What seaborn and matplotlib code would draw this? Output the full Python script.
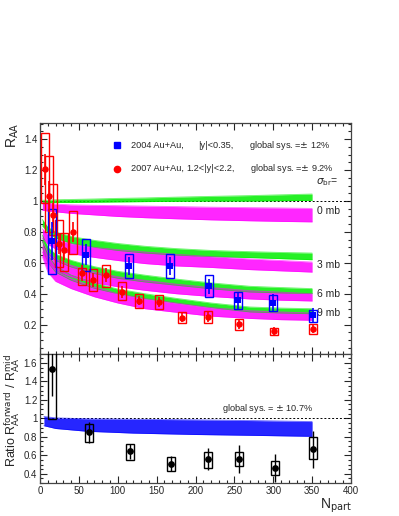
import numpy as np
import pandas as pd
import seaborn as sns
import matplotlib
matplotlib.use("Agg")
import matplotlib.pyplot as plt
from matplotlib.patches import Rectangle
from matplotlib.ticker import MultipleLocator, FuncFormatter

sns.set_style("ticks")
plt.rcParams['font.family'] = ['Liberation Sans', 'DejaVu Sans']

# ---- datos: bandas del modelo (panel superior) ----
npart_band = [3, 10, 20, 40, 70, 100, 135, 175, 220, 270, 310, 350]

verde_0_up = [1.005, 1.005, 1.008, 1.01, 1.013, 1.017, 1.02, 1.025, 1.03, 1.035, 1.04, 1.045]
verde_0_lo = [0.985, 0.988, 0.99, 0.99, 0.992, 0.994, 0.996, 0.998, 1.0, 1.0, 1.002, 1.004]
mag_0_up = [0.99, 0.985, 0.98, 0.975, 0.972, 0.97, 0.967, 0.964, 0.96, 0.957, 0.955, 0.952]
mag_0_lo = [0.94, 0.935, 0.93, 0.92, 0.91, 0.9, 0.892, 0.885, 0.878, 0.872, 0.868, 0.865]

verde_3_up = [0.88, 0.83, 0.80, 0.77, 0.745, 0.725, 0.707, 0.692, 0.68, 0.672, 0.667, 0.663]
verde_3_lo = [0.84, 0.795, 0.76, 0.725, 0.70, 0.68, 0.663, 0.65, 0.64, 0.634, 0.627, 0.62]
mag_3_up = [0.82, 0.78, 0.75, 0.724, 0.70, 0.685, 0.67, 0.655, 0.64, 0.625, 0.615, 0.605]
mag_3_lo = [0.76, 0.72, 0.69, 0.66, 0.635, 0.615, 0.595, 0.58, 0.57, 0.556, 0.548, 0.54]

verde_6_up = [0.78, 0.70, 0.655, 0.616, 0.575, 0.545, 0.52, 0.495, 0.47, 0.448, 0.44, 0.433]
verde_6_lo = [0.74, 0.66, 0.615, 0.573, 0.53, 0.50, 0.476, 0.455, 0.432, 0.411, 0.405, 0.40]
mag_6_up = [0.74, 0.67, 0.625, 0.584, 0.54, 0.51, 0.487, 0.462, 0.44, 0.42, 0.41, 0.40]
mag_6_lo = [0.67, 0.60, 0.555, 0.51, 0.47, 0.445, 0.422, 0.40, 0.382, 0.366, 0.358, 0.353]

verde_9_up = [0.74, 0.65, 0.58, 0.52, 0.47, 0.43, 0.40, 0.37, 0.34, 0.314, 0.307, 0.303]
verde_9_lo = [0.70, 0.605, 0.54, 0.487, 0.435, 0.40, 0.368, 0.34, 0.31, 0.282, 0.275, 0.27]
mag_9_up = [0.70, 0.61, 0.55, 0.497, 0.445, 0.40, 0.368, 0.34, 0.31, 0.29, 0.282, 0.275]
mag_9_lo = [0.64, 0.54, 0.48, 0.433, 0.38, 0.34, 0.303, 0.28, 0.255, 0.24, 0.232, 0.228]

# ---- datos 2004 (|y|<0.35) ----
npart_2004 = [15, 59, 115, 167, 217, 255, 300, 351]
raa_2004 = [0.741, 0.653, 0.579, 0.579, 0.448, 0.357, 0.34, 0.26]
stat_2004 = [0.12, 0.07, 0.06, 0.06, 0.05, 0.055, 0.055, 0.05]
sys_lo_2004 = [0.53, 0.55, 0.50, 0.50, 0.38, 0.30, 0.286, 0.217]
sys_hi_2004 = [0.95, 0.752, 0.66, 0.66, 0.52, 0.41, 0.394, 0.297]

# ---- datos 2007 (1.2<|y|<2.2) ----
npart_2007 = [6.8, 12, 17, 24, 31, 42, 53.6, 68.6, 85, 105, 127, 153.5, 183, 216.5, 256, 301, 351]
raa_2007 = [1.205, 1.03, 0.909, 0.724, 0.681, 0.80, 0.534, 0.487, 0.519, 0.411, 0.355,
            0.346, 0.245, 0.249, 0.202, 0.157, 0.174]
stat_2007 = [0.10, 0.10, 0.08, 0.07, 0.06, 0.065, 0.05, 0.045, 0.045, 0.04, 0.03,
             0.03, 0.03, 0.03, 0.03, 0.03, 0.03]
sys_lo_2007 = [0.99, 0.80, 0.78, 0.573, 0.55, 0.66, 0.454, 0.416, 0.443, 0.357, 0.31,
               0.30, 0.21, 0.21, 0.163, 0.13, 0.142]
sys_hi_2007 = [1.44, 1.29, 1.11, 0.875, 0.793, 0.935, 0.566, 0.562, 0.588, 0.476, 0.40,
               0.394, 0.282, 0.288, 0.234, 0.18, 0.206]

# ---- panel inferior: razon forward / mid ----
npart_ratio_band = [5, 20, 60, 120, 200, 280, 350]
ratio_band_up = [1.02, 1.005, 0.995, 0.99, 0.984, 0.975, 0.965]
ratio_band_lo = [0.92, 0.89, 0.86, 0.84, 0.825, 0.815, 0.805]

npart_ratio = [15.4, 62.6, 116, 168, 216.5, 256, 302, 351]
ratio = [1.534, 0.847, 0.641, 0.509, 0.559, 0.562, 0.46, 0.663]
ratio_stat = [0.29, 0.11, 0.085, 0.08, 0.12, 0.15, 0.15, 0.20]
ratio_sys_lo = [0.99, 0.743, 0.552, 0.433, 0.46, 0.48, 0.39, 0.56]
ratio_sys_hi = [2.07, 0.94, 0.72, 0.577, 0.64, 0.64, 0.533, 0.80]

VERDE = "#00ee00"
MAG = "#ff00ff"
AZUL = "#0000ff"
ROJO = "#ff0000"

fig = plt.figure(figsize=(3.99, 5.16), dpi=100)
ax1 = fig.add_axes([0.1003, 0.314, 0.7794, 0.4477])
ax2 = fig.add_axes([0.1003, 0.064, 0.7794, 0.250])


def banda(ax, up, lo, color, xs):
    ax.fill_between(xs, lo, up, color=color, alpha=0.85, lw=0)
    df = pd.DataFrame({"x": xs, "up": up, "lo": lo})
    sns.lineplot(data=df, x="x", y="up", ax=ax, color=color, lw=0.6, alpha=0.6)
    sns.lineplot(data=df, x="x", y="lo", ax=ax, color=color, lw=0.6, alpha=0.6)


def cajas(ax, xs, lo, hi, color, lw=1.0, half=5.2):
    for x, l, h in zip(xs, lo, hi):
        ax.add_patch(Rectangle((x - half, l), 2 * half, h - l, fill=False,
                               edgecolor=color, lw=lw, zorder=4))


# ---- panel superior ----
ax1.axhline(1.0, color="black", ls=(0, (2, 2)), lw=0.7, zorder=1)
for up, lo in [(verde_0_up, verde_0_lo), (verde_3_up, verde_3_lo),
               (verde_6_up, verde_6_lo), (verde_9_up, verde_9_lo)]:
    banda(ax1, up, lo, VERDE, npart_band)
for up, lo in [(mag_0_up, mag_0_lo), (mag_3_up, mag_3_lo),
               (mag_6_up, mag_6_lo), (mag_9_up, mag_9_lo)]:
    banda(ax1, up, lo, MAG, npart_band)

cajas(ax1, npart_2007, sys_lo_2007, sys_hi_2007, ROJO)
cajas(ax1, npart_2004, sys_lo_2004, sys_hi_2004, AZUL)
ax1.errorbar(npart_2007, raa_2007, yerr=stat_2007, fmt="none", ecolor=ROJO, elinewidth=1.2, zorder=5)
ax1.errorbar(npart_2004, raa_2004, yerr=stat_2004, fmt="none", ecolor=AZUL, elinewidth=1.2, zorder=5)
sns.scatterplot(x=npart_2007, y=raa_2007, ax=ax1, color=ROJO, marker="o", s=22,
                edgecolor=ROJO, linewidth=0, zorder=6)
sns.scatterplot(x=npart_2004, y=raa_2004, ax=ax1, color=AZUL, marker="s", s=22,
                edgecolor=AZUL, linewidth=0, zorder=6)

# leyenda manual
ax1.plot([98.6], [1.36], marker="s", color=AZUL, ms=4.5, ls="none")
ax1.plot([98.6], [1.21], marker="o", color=ROJO, ms=4.5, ls="none")
fs = 6.6
ax1.text(117, 1.36, "2004 Au+Au,", fontsize=fs, va="center")
ax1.text(204, 1.36, "|y|<0.35,", fontsize=fs, va="center")
ax1.text(269, 1.36, "global sys. =$\\pm$ 12%", fontsize=fs, va="center")
ax1.text(117, 1.21, "2007 Au+Au,", fontsize=fs, va="center")
ax1.text(188, 1.21, "1.2<|y|<2.2,", fontsize=fs, va="center")
ax1.text(270, 1.21, "global sys. =$\\pm$ 9.2%", fontsize=fs, va="center")

fs2 = 7.5
ax1.text(355, 1.12, "$\\sigma_{\\rm br}$=", fontsize=fs2, va="center")
ax1.text(356, 0.935, "0 mb", fontsize=fs2, va="center")
ax1.text(356, 0.588, "3 mb", fontsize=fs2, va="center")
ax1.text(356, 0.396, "6 mb", fontsize=fs2, va="center")
ax1.text(356, 0.278, "9 mb", fontsize=fs2, va="center", zorder=3)

ax1.set_xlim(0, 400)
ax1.set_ylim(0.01, 1.505)
ax1.set_ylabel("R$_{\\rm AA}$", fontsize=10, loc="top", labelpad=2)
ax1.set_xlabel("")
ax1.yaxis.set_major_locator(MultipleLocator(0.2))
ax1.yaxis.set_minor_locator(MultipleLocator(0.05))
ax1.tick_params(labelbottom=False)

# ---- panel inferior ----
ax2.axhline(1.0, color="black", ls=(0, (2, 2)), lw=0.7, zorder=1)
banda(ax2, ratio_band_up, ratio_band_lo, AZUL, npart_ratio_band)
cajas(ax2, npart_ratio, ratio_sys_lo, ratio_sys_hi, "black", lw=1.0)
ax2.errorbar(npart_ratio, ratio, yerr=ratio_stat, fmt="none", ecolor="black", elinewidth=1.0, zorder=5)
sns.scatterplot(x=npart_ratio, y=ratio, ax=ax2, color="black", marker="o", s=24,
                linewidth=0, zorder=6)
ax2.text(233.6, 1.11, "global sys. = $\\pm$ 10.7%", fontsize=fs, va="center")

ax2.set_xlim(0, 400)
ax2.set_ylim(0.3, 1.697)
ax2.set_ylabel("Ratio R$_{\\rm AA}^{\\rm forward}$ / R$_{\\rm AA}^{\\rm mid}$", fontsize=9, loc="top", labelpad=1)
ax2.set_xlabel("")
ax2.yaxis.set_major_locator(MultipleLocator(0.2))
ax2.yaxis.set_minor_locator(MultipleLocator(0.05))
fig.text(0.882, 0.002, "N$_{\\rm part}$", fontsize=10, ha="right", va="bottom")

fmt = FuncFormatter(lambda v, p: "%g" % round(v, 2))
for ax in (ax1, ax2):
    ax.xaxis.set_major_locator(MultipleLocator(50))
    ax.xaxis.set_minor_locator(MultipleLocator(10))
    ax.yaxis.set_major_formatter(fmt)
    ax.tick_params(which="both", direction="in", top=True, right=True, labelsize=7, width=0.8, pad=2)
    ax.tick_params(which="major", length=5)
    ax.tick_params(which="minor", length=2.5)
    for s in ax.spines.values():
        s.set_linewidth(0.9)
        s.set_color("#444444")
    if ax.get_legend():
        ax.get_legend().remove()
ax1.set_xlabel("")

fig.savefig("out.png", dpi=100)
